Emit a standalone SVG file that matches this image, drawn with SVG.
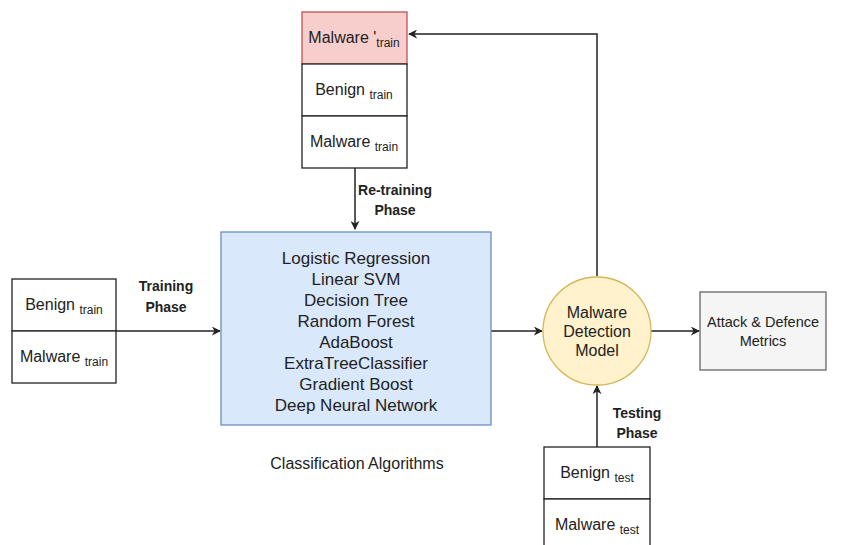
<svg xmlns="http://www.w3.org/2000/svg" width="843" height="545" viewBox="0 0 843 545">
<style>
text{font-family:"Liberation Sans",Arial,sans-serif;fill:#222;text-anchor:middle}
.box{fill:#fff;stroke:#222;stroke-width:1.3}
.lbl{font-size:16px}
.sub{font-size:12px}
.b{font-weight:bold;font-size:14px}
.alg{font-size:17px}
.ln{fill:none;stroke:#222;stroke-width:1.5}
</style>
<defs>
<marker id="ah" viewBox="0 0 10 10" refX="9" refY="5" markerWidth="9" markerHeight="9" orient="auto" markerUnits="userSpaceOnUse">
<path d="M0,0 L10,5 L0,10 L3,5 Z" fill="#222"/>
</marker>
</defs>
<rect width="843" height="545" fill="#fff"/>
<g id="connectors">
<path class="ln" d="M355,168 V229" marker-end="url(#ah)"/>
<path class="ln" d="M116,331 H220" marker-end="url(#ah)"/>
<path class="ln" d="M491,331 H542" marker-end="url(#ah)"/>
<path class="ln" d="M651,331 H699" marker-end="url(#ah)"/>
<path class="ln" d="M597,276 V34 H409" marker-end="url(#ah)"/>
<path class="ln" d="M597,447 V386" marker-end="url(#ah)"/>
<text class="b" x="395" y="195">Re-training</text>
<text class="b" x="395" y="215">Phase</text>
<text class="b" x="166" y="291">Training</text>
<text class="b" x="166" y="312">Phase</text>
<text class="b" x="637" y="418">Testing</text>
<text class="b" x="637" y="438">Phase</text>
</g>
<g id="retrain-data">
<rect x="302" y="12" width="105" height="52" fill="#f8cecc" stroke="#b85450" stroke-width="1.3"/>
<text class="lbl" x="354" y="43">Malware '<tspan class="sub" dy="4">train</tspan></text>
<rect class="box" x="302" y="64" width="105" height="52"/>
<text class="lbl" x="354" y="95">Benign <tspan class="sub" dy="4">train</tspan></text>
<rect class="box" x="302" y="116" width="105" height="52"/>
<text class="lbl" x="354" y="147">Malware <tspan class="sub" dy="4">train</tspan></text>
</g>
<g id="train-data">
<rect class="box" x="12" y="279" width="104" height="52"/>
<text class="lbl" x="64" y="310">Benign <tspan class="sub" dy="4">train</tspan></text>
<rect class="box" x="12" y="331" width="104" height="52"/>
<text class="lbl" x="64" y="362">Malware <tspan class="sub" dy="4">train</tspan></text>
</g>
<g id="algorithms">
<rect x="221" y="232" width="270" height="193" fill="#dae8fc" stroke="#6c8ebf" stroke-width="1.3"/>
<text class="alg" x="356" y="264">Logistic Regression</text>
<text class="alg" x="356" y="285">Linear SVM</text>
<text class="alg" x="356" y="306">Decision Tree</text>
<text class="alg" x="356" y="327">Random Forest</text>
<text class="alg" x="356" y="348">AdaBoost</text>
<text class="alg" x="356" y="369">ExtraTreeClassifier</text>
<text class="alg" x="356" y="390">Gradient Boost</text>
<text class="alg" x="356" y="411">Deep Neural Network</text>
<text x="357" y="469" style="font-size:16px">Classification Algorithms</text>
</g>
<g id="model">
<circle cx="597" cy="331" r="54" fill="#fff2cc" stroke="#d6b656" stroke-width="1.3"/>
<text class="lbl" x="597" y="318">Malware</text>
<text class="lbl" x="597" y="337">Detection</text>
<text class="lbl" x="597" y="356">Model</text>
</g>
<g id="metrics">
<rect x="700" y="292" width="126" height="78" fill="#f5f5f5" stroke="#666" stroke-width="1.3"/>
<text x="763" y="327" style="font-size:14.5px">Attack &amp; Defence</text>
<text x="763" y="346" style="font-size:14.5px">Metrics</text>
</g>
<g id="test-data">
<rect class="box" x="544" y="447" width="106" height="52"/>
<text class="lbl" x="597" y="478">Benign <tspan class="sub" dy="4">test</tspan></text>
<rect class="box" x="544" y="499" width="106" height="52"/>
<text class="lbl" x="597" y="530">Malware <tspan class="sub" dy="4">test</tspan></text>
</g>
</svg>
